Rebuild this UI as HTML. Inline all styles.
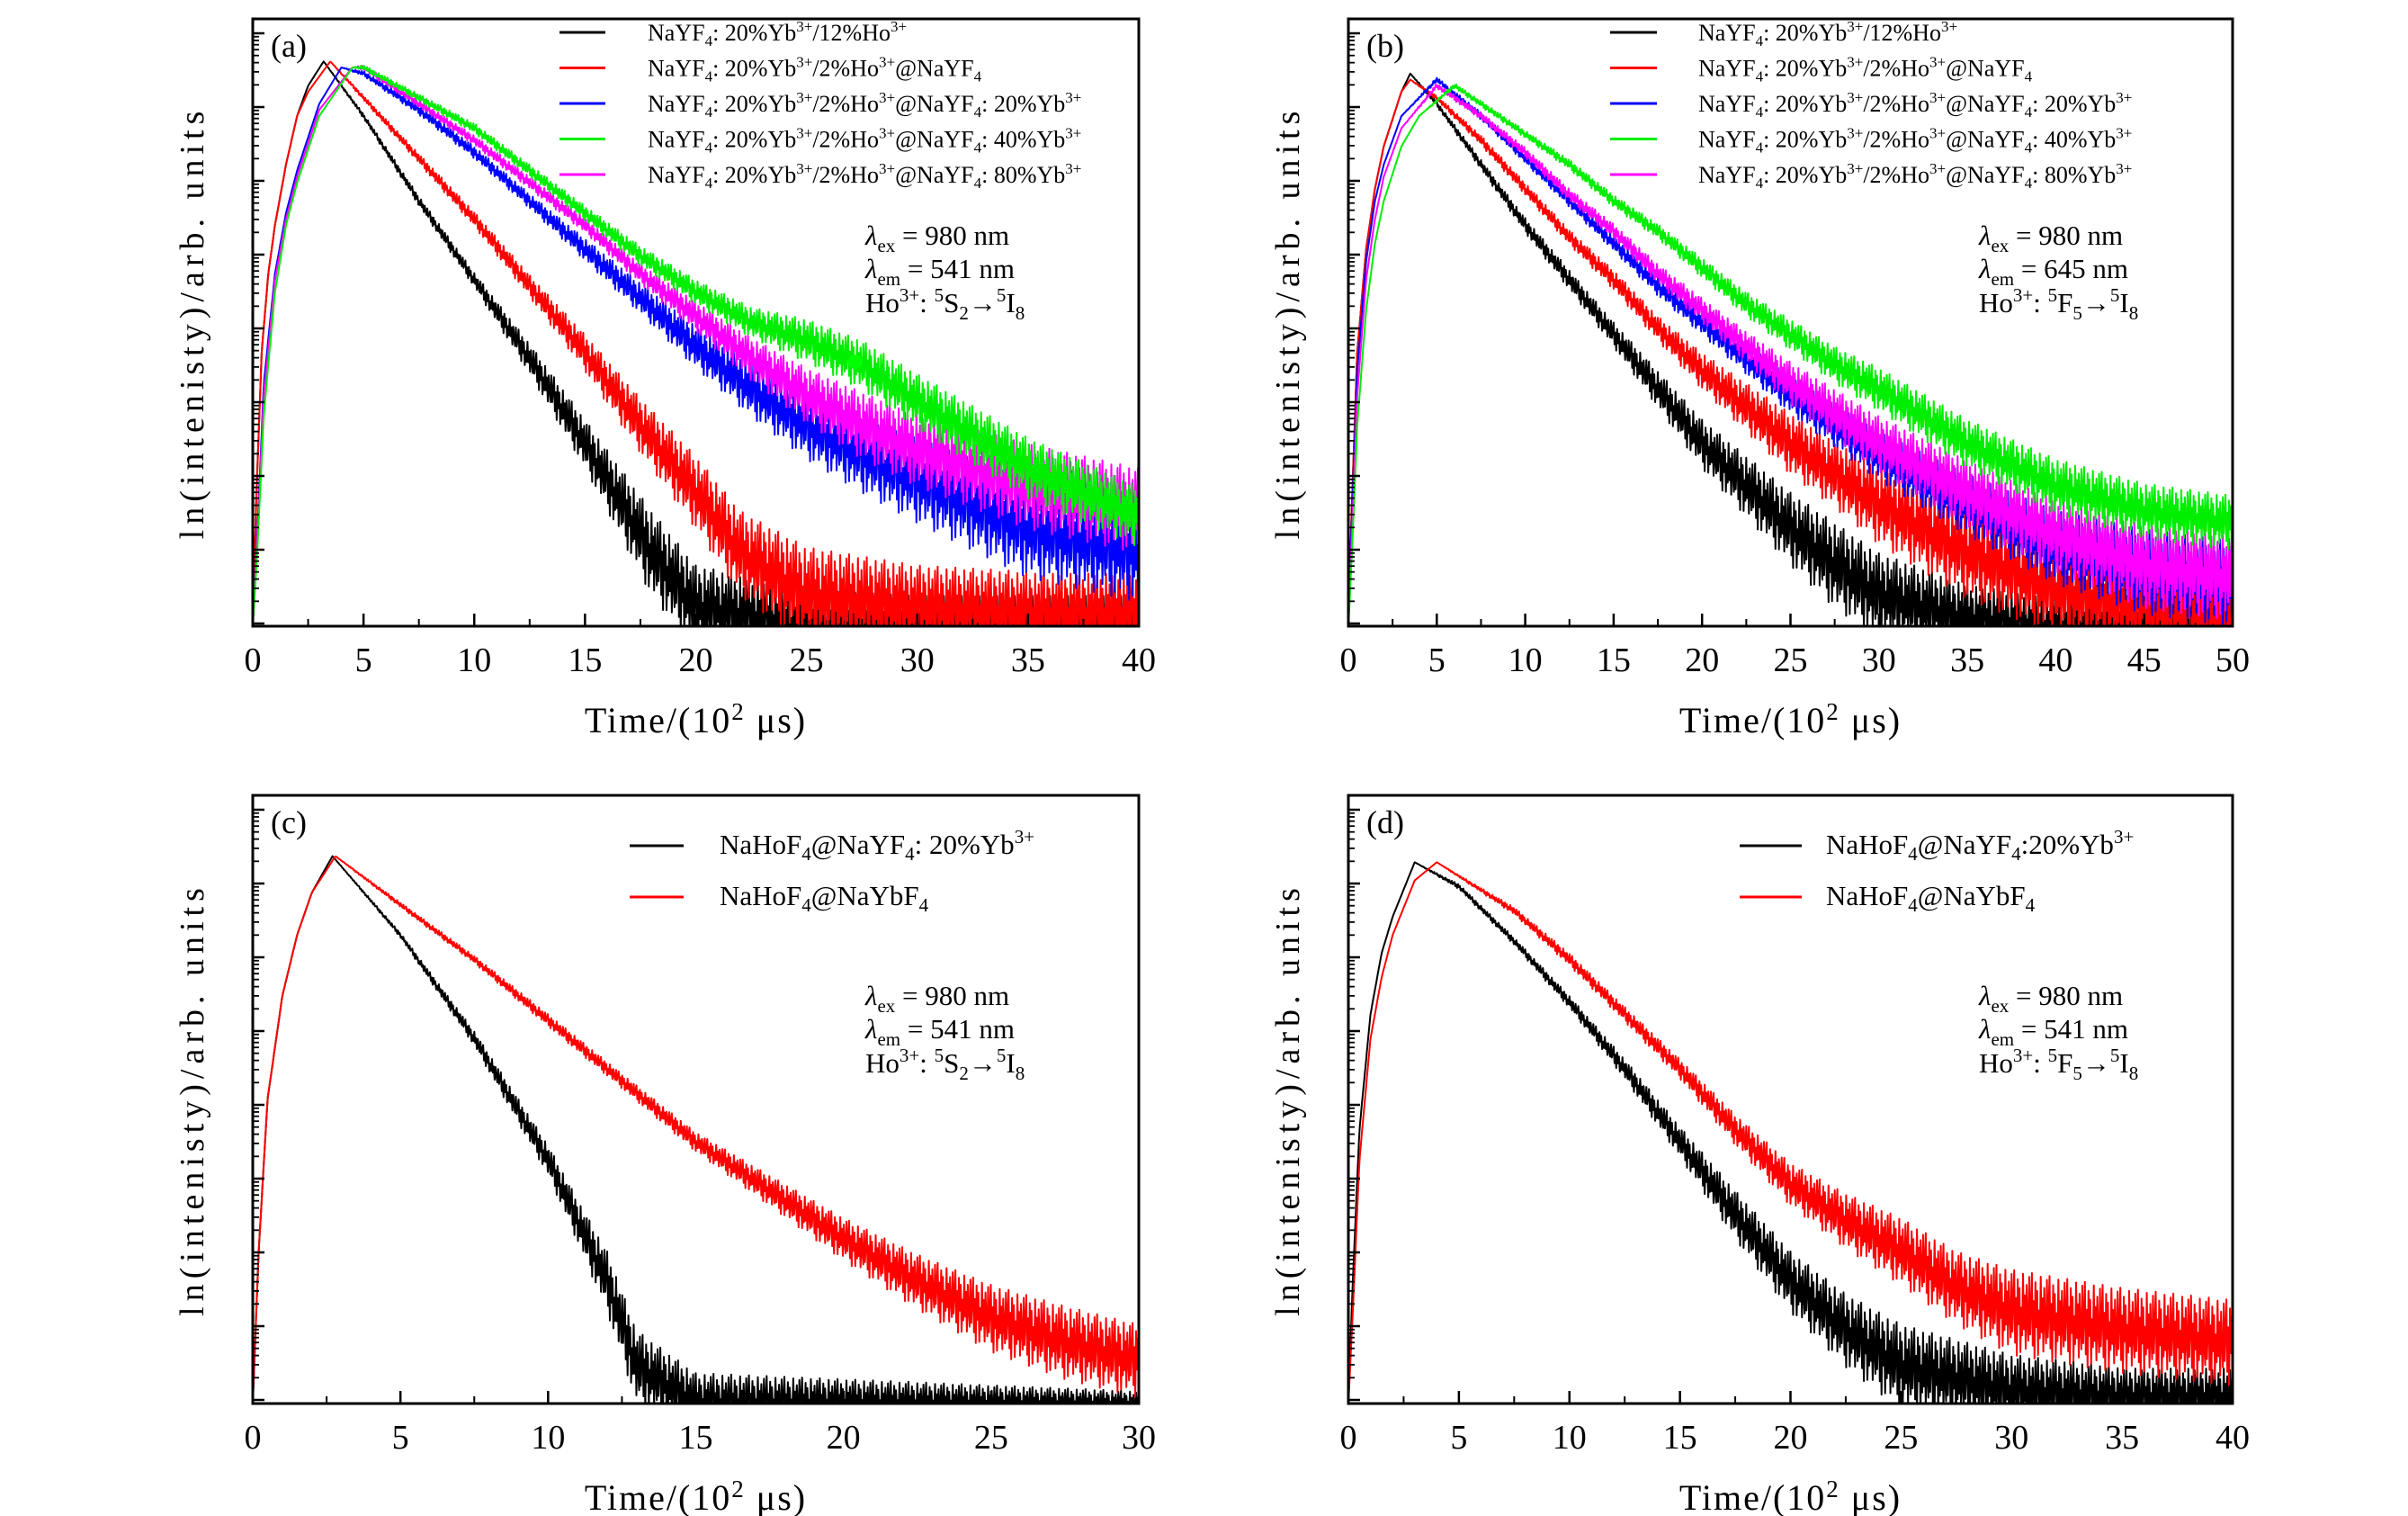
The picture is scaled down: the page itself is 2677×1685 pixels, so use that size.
<!DOCTYPE html>
<html><head><meta charset="utf-8"><title>Decay curves</title>
<style>
html,body{margin:0;padding:0;background:#fff;}
svg{display:block;font-family:"Liberation Serif",serif;}
</style></head>
<body>
<svg id="fig" width="2677" height="1685" viewBox="0 0 2677 1685" xmlns="http://www.w3.org/2000/svg"></svg>
<script>
// ---------- data (values: relative ln-intensity, 0 = axis bottom, 1 = axis top) ----------
const xTicksA = [0,5,10,15,20,25,30,35,40];
const xTicksB = [0,5,10,15,20,25,30,35,40,45,50];
const xTicksC = [0,5,10,15,20,25,30];
const xTicksD = [0,5,10,15,20,25,30,35,40];

// Panel (a)
const aBlackT = [0,0.15,0.4,0.7,1,1.5,2,2.5,3.2,5,7.5,10,12.5,15,17,18,20,25,30,35,40];
const aBlackV = [0,0.2,0.45,0.58,0.66,0.76,0.84,0.89,0.93,0.84,0.7,0.57,0.44,0.3,0.18,0.12,0.03,0.0,0.0,0.0,0.0];
const aBlackN = [0,0,0,0,0,0,0,0,0,0.004,0.008,0.012,0.025,0.04,0.06,0.07,0.07,0.06,0.05,0.05,0.05];
const aRedT = [0,0.15,0.4,0.7,1,1.5,2,2.5,3.5,5,7.5,10,12.5,15,17.5,20,22,25,30,35,40];
const aRedV = [0,0.2,0.45,0.58,0.66,0.76,0.84,0.88,0.93,0.87,0.77,0.67,0.56,0.45,0.33,0.22,0.12,0.05,0.03,0.02,0.02];
const aRedN = [0,0,0,0,0,0,0,0,0,0.004,0.008,0.012,0.018,0.03,0.045,0.06,0.07,0.08,0.07,0.07,0.07];
const aBlueT = [0,0.2,0.5,1,1.5,2,3,4,5,7.5,10,12.5,15,17.5,20,22.5,25,27.5,30,35,40];
const aBlueV = [0,0.15,0.4,0.58,0.68,0.75,0.86,0.92,0.91,0.85,0.78,0.7,0.62,0.54,0.46,0.39,0.33,0.28,0.24,0.16,0.12];
const aBlueN = [0,0,0,0,0,0,0,0,0.004,0.008,0.01,0.012,0.018,0.025,0.035,0.045,0.055,0.06,0.07,0.08,0.08];
const aGreenT = [0,0.2,0.5,1,1.5,2,3,4.5,5,7.5,10,12.5,15,17.5,20,22.5,25,27.5,30,35,40];
const aGreenV = [0,0.12,0.35,0.55,0.66,0.73,0.84,0.92,0.92,0.87,0.82,0.75,0.68,0.61,0.55,0.5,0.47,0.43,0.37,0.26,0.18];
const aGreenN = [0,0,0,0,0,0,0,0,0.004,0.006,0.008,0.01,0.012,0.016,0.02,0.025,0.035,0.04,0.045,0.05,0.05];
const aMagT = [0,0.2,0.5,1,1.5,2,3,4.5,5,7.5,10,12.5,15,17.5,20,22.5,25,27.5,30,35,40];
const aMagV = [0,0.14,0.38,0.57,0.67,0.74,0.85,0.92,0.92,0.86,0.8,0.73,0.66,0.58,0.51,0.44,0.38,0.33,0.29,0.23,0.19];
const aMagN = [0,0,0,0,0,0,0,0,0.004,0.006,0.008,0.01,0.012,0.016,0.025,0.035,0.045,0.055,0.06,0.07,0.07];
const aDot = [27.2, 0.435];

// Panel (b)
const bBlackT = [0,0.2,0.5,1,1.5,2,3,3.5,5,7.5,10,12.5,15,17.5,20,22.5,25,27.5,30,35,40,45,50];
const bBlackV = [0,0.2,0.45,0.62,0.72,0.79,0.88,0.91,0.86,0.76,0.66,0.57,0.48,0.39,0.3,0.23,0.16,0.1,0.05,0.01,0,0,0];
const bBlackN = [0,0,0,0,0,0,0,0,0.004,0.008,0.012,0.016,0.02,0.03,0.04,0.05,0.06,0.07,0.07,0.06,0.05,0.05,0.05];
const bRedT = [0,0.2,0.5,1,1.5,2,3,3.5,5,7.5,10,12.5,15,17.5,20,22.5,25,27.5,30,35,40,45,50];
const bRedV = [0,0.2,0.45,0.62,0.72,0.79,0.88,0.9,0.87,0.8,0.72,0.64,0.57,0.49,0.42,0.36,0.3,0.25,0.2,0.12,0.06,0.03,0.02];
const bRedN = [0,0,0,0,0,0,0,0,0.004,0.008,0.01,0.012,0.016,0.02,0.03,0.04,0.05,0.055,0.065,0.075,0.075,0.07,0.07];
const bBlueT = [0,0.2,0.5,1,1.5,2,3,5,7.5,10,12.5,15,17.5,20,22.5,25,27.5,30,35,40,45,50];
const bBlueV = [0,0.18,0.42,0.6,0.7,0.76,0.84,0.9,0.84,0.77,0.7,0.63,0.56,0.5,0.44,0.38,0.33,0.28,0.2,0.13,0.09,0.07];
const bBlueN = [0,0,0,0,0,0,0,0.004,0.006,0.008,0.01,0.012,0.016,0.02,0.025,0.03,0.035,0.04,0.05,0.06,0.07,0.07];
const bGreenT = [0,0.2,0.5,1,1.5,2,3,4,6,7.5,10,12.5,15,17.5,20,22.5,25,27.5,30,35,40,45,50];
const bGreenV = [0,0.12,0.33,0.52,0.63,0.7,0.79,0.84,0.89,0.86,0.81,0.76,0.7,0.65,0.59,0.53,0.48,0.43,0.39,0.3,0.23,0.19,0.17];
const bGreenN = [0,0,0,0,0,0,0,0,0.004,0.005,0.006,0.008,0.01,0.012,0.016,0.02,0.025,0.03,0.035,0.04,0.045,0.045,0.045];
const bMagT = [0,0.2,0.5,1,1.5,2,3,5,7.5,10,12.5,15,17.5,20,22.5,25,27.5,30,35,40,45,50];
const bMagV = [0,0.15,0.38,0.57,0.67,0.74,0.82,0.89,0.84,0.78,0.71,0.65,0.58,0.52,0.46,0.4,0.35,0.3,0.22,0.15,0.1,0.08];
const bMagN = [0,0,0,0,0,0,0,0.004,0.006,0.008,0.01,0.012,0.016,0.02,0.025,0.035,0.04,0.045,0.055,0.06,0.07,0.07];

// Panel (c)
const cBlackT = [0,0.2,0.5,1,1.5,2,2.7,5,7.5,10,11,12,13,15,20,25,30];
const cBlackV = [0,0.25,0.5,0.67,0.77,0.84,0.9,0.77,0.6,0.4,0.3,0.2,0.06,0,0,0,0];
const cBlackN = [0,0,0,0,0,0,0,0.004,0.012,0.025,0.035,0.05,0.06,0.05,0.04,0.03,0.02];
const cRedT = [0,0.2,0.5,1,1.5,2,2.8,5,7.5,10,12.5,15,17.5,20,22.5,25,27.5,30];
const cRedV = [0,0.25,0.5,0.67,0.77,0.84,0.9,0.82,0.73,0.63,0.53,0.43,0.35,0.27,0.2,0.14,0.1,0.07];
const cRedN = [0,0,0,0,0,0,0,0.004,0.006,0.01,0.012,0.016,0.025,0.035,0.045,0.055,0.06,0.06];

// Panel (d)
const dBlackT = [0,0.2,0.5,1,1.5,2,3,5,7.5,10,12.5,15,17.5,20,22.5,25,30,35,40];
const dBlackV = [0,0.2,0.45,0.64,0.74,0.8,0.89,0.85,0.76,0.66,0.55,0.43,0.31,0.2,0.12,0.06,0.02,0.01,0.01];
const dBlackN = [0,0,0,0,0,0,0,0.004,0.006,0.01,0.016,0.025,0.04,0.05,0.06,0.07,0.06,0.05,0.05];
const dRedT = [0,0.2,0.5,1,1.5,2,3,4,7.5,10,12.5,15,17.5,20,22.5,25,27.5,30,35,40];
const dRedV = [0,0.15,0.4,0.6,0.7,0.77,0.86,0.89,0.81,0.73,0.64,0.55,0.45,0.36,0.3,0.25,0.19,0.15,0.12,0.1];
const dRedN = [0,0,0,0,0,0,0,0,0.006,0.01,0.012,0.016,0.025,0.035,0.045,0.055,0.06,0.07,0.07,0.07];

// deterministic jitter shape used for drawing the noise band
const jitter = [1,-0.7,0.35,-1,0.8,-0.25,0.6,-0.9,0.15,-0.5,0.95,-0.35,0.45,-0.8,0.7,-0.1,-0.6,0.9,-0.45,0.25];

const svg = document.getElementById('fig');
const NS = 'http://www.w3.org/2000/svg';
function mk(tag, attrs, parent){
  const e = document.createElementNS(NS, tag);
  for (const k in attrs) e.setAttribute(k, attrs[k]);
  (parent||svg).appendChild(e);
  return e;
}
function interp(T, V, t){
  if (t <= T[0]) return V[0];
  for (let i=1;i<T.length;i++){
    if (t <= T[i]){ const f=(t-T[i-1])/(T[i]-T[i-1]); return V[i-1]+f*(V[i]-V[i-1]); }
  }
  return V[V.length-1];
}

function panel(cfg){
  const g = mk('g', {});
  
  
  const {x0,x1,y0,y1,xmax} = cfg;
  const sx = t => x0 + (t/xmax)*(x1-x0);
  const sy = v => y1 - v*(y1-y0);
  const cid = 'clip'+cfg.id;
  const defs = mk('defs', {}, g);
  const cp = mk('clipPath', {id:cid}, defs);
  mk('rect', {x:x0, y:y0, width:x1-x0, height:y1-y0}, cp);
  const sg = mk('g', {'clip-path':'url(#'+cid+')'}, g);
  cfg.series.forEach((s, si) => {
    const N = 1000;
    let d = '';
    for (let i=0;i<=N;i++){
      const t = xmax*i/N;
      let v = interp(s.t, s.v, t) + interp(s.t, s.n, t) * jitter[(i + si*7) % jitter.length];
      if (v < -0.01) v = -0.01;
      d += (i?'L':'M') + sx(t).toFixed(1) + ' ' + sy(v).toFixed(1);
    }
    const p = mk('path', {d:d, fill:'none', stroke:s.color, 'stroke-width':2, 'stroke-linejoin':'round'}, sg);
    
    
  });
  if (cfg.dot){
    const c = mk('circle', {cx:sx(cfg.dot[0]), cy:sy(cfg.dot[1]), r:8, fill:'#00ff00'}, g);
    
    
  }
  const fr = mk('rect', {x:x0, y:y0, width:x1-x0, height:y1-y0, fill:'none', stroke:'#000', 'stroke-width':3}, g);
  
  
  const ticks = cfg.ticks;
  const step = ticks[1]-ticks[0];
  ticks.forEach(tv => {
    mk('line', {x1:sx(tv), x2:sx(tv), y1:y1, y2:y1-14, stroke:'#000', 'stroke-width':2.5}, g);
    if (tv + step/2 <= xmax) mk('line', {x1:sx(tv+step/2), x2:sx(tv+step/2), y1:y1, y2:y1-8, stroke:'#000', 'stroke-width':2}, g);
    const tl = mk('text', {x:sx(tv), y:y1+50, 'font-size':38, 'text-anchor':'middle'}, g);
    tl.textContent = tv;
    
    
  });
  const dec = 82;
  for (let k=0;k<9;k++){
    const base = y0 + 16 + dec*k;
    if (base <= y1) mk('line', {x1:x0, x2:x0+13, y1:base, y2:base, stroke:'#000', 'stroke-width':2.5}, g);
    for (let m=2;m<=9;m++){
      const yy = base - Math.log10(m)*dec;
      if (yy > y0 && yy < y1) mk('line', {x1:x0, x2:x0+7, y1:yy, y2:yy, stroke:'#000', 'stroke-width':1.8}, g);
    }
  }
  const xl = mk('text', {x:(x0+x1)/2, y:y1+118, 'font-size':40, 'text-anchor':'middle', 'letter-spacing':2}, g);
  xl.innerHTML = 'Time/(10<tspan dy="-14" font-size="27">2</tspan><tspan dy="14"> μs)</tspan>';
  
  
  const yl = mk('text', {x:0, y:0, 'font-size':38, 'text-anchor':'middle', 'letter-spacing':6,
    transform:'translate('+(x0-55)+','+((y0+y1)/2)+') rotate(-90)'}, g);
  yl.textContent = 'ln(intenisty)/arb. units';
  
  
  const pl = mk('text', {x:x0+20, y:y0+42, 'font-size':36}, g);
  pl.textContent = '('+cfg.id+')';
  
  
  cfg.legend.forEach((L, i) => {
    const ly = cfg.lg.y + i*cfg.lg.dy;
    const e = mk('g', {}, g);
    
    
    mk('line', {x1:cfg.lg.lx1, x2:cfg.lg.lx2, y1:ly, y2:ly, stroke:L[0], 'stroke-width':3}, e);
    const t = mk('text', {x:cfg.lg.tx, y:ly+9, 'font-size':cfg.lg.fs}, e);
    t.innerHTML = L[1];
  });
  const ax = cfg.ann.x, ay = cfg.ann.y;
  const an = mk('g', {}, g);
  
  
  const t1 = mk('text', {x:ax, y:ay, 'font-size':31}, an);
  t1.innerHTML = '<tspan font-style="italic">λ</tspan><tspan dy="8" font-size="21">ex</tspan><tspan dy="-8"> = 980  nm</tspan>';
  const t2 = mk('text', {x:ax, y:ay+37, 'font-size':31}, an);
  t2.innerHTML = '<tspan font-style="italic">λ</tspan><tspan dy="8" font-size="21">em</tspan><tspan dy="-8"> = '+cfg.ann.em+'  nm</tspan>';
  const t3 = mk('text', {x:ax, y:ay+75, 'font-size':31}, an);
  t3.innerHTML = 'Ho<tspan dy="-12" font-size="21">3+</tspan><tspan dy="12">:  </tspan><tspan dy="-12" font-size="21">5</tspan><tspan dy="12">'+cfg.ann.lvl+'</tspan><tspan dy="8" font-size="21">'+cfg.ann.sub+'</tspan><tspan dy="-8">→</tspan><tspan dy="-12" font-size="21">5</tspan><tspan dy="12">I</tspan><tspan dy="8" font-size="21">8</tspan>';
}

const sup = s => '<tspan dy="-10" font-size="17">'+s+'</tspan><tspan dy="10">';
const sub = s => '<tspan dy="6" font-size="17">'+s+'</tspan><tspan dy="-6">';
const leg5 = [
  ['#000','NaYF'+sub('4')+': 20%Yb'+sup('3+')+'/12%Ho'+sup('3+')+'</tspan></tspan></tspan>'],
  ['#ff0000','NaYF'+sub('4')+': 20%Yb'+sup('3+')+'/2%Ho'+sup('3+')+'@NaYF'+sub('4')+'</tspan></tspan></tspan></tspan>'],
  ['#0000ff','NaYF'+sub('4')+': 20%Yb'+sup('3+')+'/2%Ho'+sup('3+')+'@NaYF'+sub('4')+': 20%Yb'+sup('3+')+'</tspan></tspan></tspan></tspan></tspan>'],
  ['#00ee00','NaYF'+sub('4')+': 20%Yb'+sup('3+')+'/2%Ho'+sup('3+')+'@NaYF'+sub('4')+': 40%Yb'+sup('3+')+'</tspan></tspan></tspan></tspan></tspan>'],
  ['#ff00ff','NaYF'+sub('4')+': 20%Yb'+sup('3+')+'/2%Ho'+sup('3+')+'@NaYF'+sub('4')+': 80%Yb'+sup('3+')+'</tspan></tspan></tspan></tspan></tspan>']
];
const supL = s => '<tspan dy="-12" font-size="21">'+s+'</tspan><tspan dy="12">';
const subL = s => '<tspan dy="7" font-size="21">'+s+'</tspan><tspan dy="-7">';

panel({id:'a', name:'panel-a', x0:281, x1:1266, y0:21, y1:696, xmax:40, ticks:xTicksA,
  series:[
    {key:'black-12ho', color:'#000', t:aBlackT, v:aBlackV, n:aBlackN},
    {key:'red-nayf4', color:'#ff0000', t:aRedT, v:aRedV, n:aRedN},
    {key:'blue-20yb', color:'#0000ff', t:aBlueT, v:aBlueV, n:aBlueN},
    {key:'magenta-80yb', color:'#ff00ff', t:aMagT, v:aMagV, n:aMagN},
    {key:'green-40yb', color:'#00ee00', t:aGreenT, v:aGreenV, n:aGreenN}],
  dot:aDot, legend:leg5, lg:{y:36, dy:39.5, lx1:622, lx2:673, tx:720, fs:26},
  ann:{x:962, y:272, em:'541', lvl:'S', sub:'2'}});
panel({id:'b', name:'panel-b', x0:1499, x1:2482, y0:21, y1:696, xmax:50, ticks:xTicksB,
  series:[
    {key:'black-12ho', color:'#000', t:bBlackT, v:bBlackV, n:bBlackN},
    {key:'red-nayf4', color:'#ff0000', t:bRedT, v:bRedV, n:bRedN},
    {key:'blue-20yb', color:'#0000ff', t:bBlueT, v:bBlueV, n:bBlueN},
    {key:'magenta-80yb', color:'#ff00ff', t:bMagT, v:bMagV, n:bMagN},
    {key:'green-40yb', color:'#00ee00', t:bGreenT, v:bGreenV, n:bGreenN}],
  legend:leg5, lg:{y:36, dy:39.5, lx1:1790, lx2:1842, tx:1888, fs:26},
  ann:{x:2200, y:272, em:'645', lvl:'F', sub:'5'}});
panel({id:'c', name:'panel-c', x0:281, x1:1266, y0:884, y1:1560, xmax:30, ticks:xTicksC,
  series:[
    {key:'black-20yb', color:'#000', t:cBlackT, v:cBlackV, n:cBlackN},
    {key:'red-naybf4', color:'#ff0000', t:cRedT, v:cRedV, n:cRedN}],
  legend:[
    ['#000','NaHoF'+subL('4')+'@NaYF'+subL('4')+': 20%Yb'+supL('3+')+'</tspan></tspan></tspan>'],
    ['#ff0000','NaHoF'+subL('4')+'@NaYbF'+subL('4')+'</tspan></tspan>']],
  lg:{y:940, dy:57, lx1:700, lx2:760, tx:800, fs:31},
  ann:{x:962, y:1117, em:'541', lvl:'S', sub:'2'}});
panel({id:'d', name:'panel-d', x0:1499, x1:2482, y0:884, y1:1560, xmax:40, ticks:xTicksD,
  series:[
    {key:'black-20yb', color:'#000', t:dBlackT, v:dBlackV, n:dBlackN},
    {key:'red-naybf4', color:'#ff0000', t:dRedT, v:dRedV, n:dRedN}],
  legend:[
    ['#000','NaHoF'+subL('4')+'@NaYF'+subL('4')+':20%Yb'+supL('3+')+'</tspan></tspan></tspan>'],
    ['#ff0000','NaHoF'+subL('4')+'@NaYbF'+subL('4')+'</tspan></tspan>']],
  lg:{y:940, dy:57, lx1:1934, lx2:2003, tx:2030, fs:31},
  ann:{x:2200, y:1117, em:'541', lvl:'F', sub:'5'}});
</script>
</body></html>
